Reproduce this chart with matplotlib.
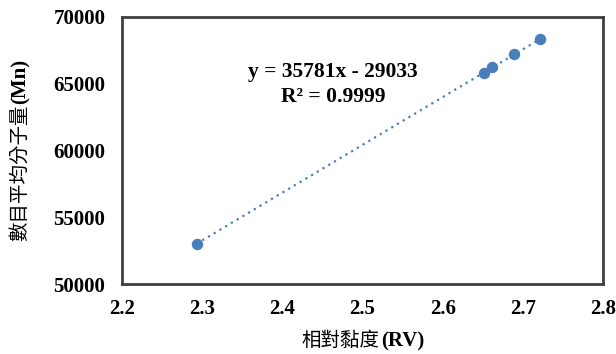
import matplotlib
matplotlib.use("Agg")
import matplotlib.pyplot as plt
import numpy as np

rv = [2.293, 2.652, 2.662, 2.689, 2.722]
mn = [53000, 65840, 66230, 67220, 68320]
slope, intercept = 35781, -29033
xticks = [2.2, 2.3, 2.4, 2.5, 2.6, 2.7, 2.8]
yticks = [50000, 55000, 60000, 65000, 70000]

serif = ['Liberation Serif', 'DejaVu Serif']
cjk = ['Noto Sans CJK TC', 'Liberation Serif']

fig = plt.figure(figsize=(6.16, 3.54), dpi=100)
ax = fig.add_axes([122/616, 1-284/354, (603-122)/616, (284-17)/354])

xf = np.array([min(rv), max(rv)])
ax.plot(xf, slope*xf + intercept, linestyle=(0, (1, 2)), color='#4a7ebb', linewidth=1.6, zorder=2)
ax.scatter(rv, mn, s=52, color='#4a7ebb', zorder=3)

ax.set_xlim(2.2, 2.8)
ax.set_ylim(50000, 70000)
ax.set_xticks(xticks)
ax.set_yticks(yticks)
ax.set_xticklabels([f"{v:.1f}" for v in xticks], fontfamily=serif, fontweight='bold', fontsize=15)
ax.set_yticklabels([str(v) for v in yticks], fontfamily=serif, fontweight='bold', fontsize=15)
ax.tick_params(axis='y', length=0, pad=12)
ax.tick_params(axis='x', length=0, pad=11)
for s in ax.spines.values():
    s.set_color('#404040')
    s.set_linewidth(2)

# x label: CJK regular + bold serif "(RV)"
fig.canvas.draw()
r = fig.canvas.get_renderer()
t1 = fig.text(0, 0, '相對黏度', fontfamily=cjk, fontsize=14, ha='left', va='baseline')
t2 = fig.text(0, 0, '(RV)', fontfamily=serif, fontweight='bold', fontsize=15, ha='left', va='baseline')
w1 = t1.get_window_extent(r).width
w2 = t2.get_window_extent(r).width
cx = (122 + 603) / 2
x0 = cx - (w1 + w2) / 2
base_y = 354 - 346
t1.set_position((x0 / 616, base_y / 354))
t2.set_position(((x0 + w1 + 1) / 616, base_y / 354))

# y label: CJK regular + bold serif "(Mn)", rotated
t3 = fig.text(0, 0, '數目平均分子量', fontfamily=cjk, fontsize=14, rotation=90, ha='center', va='bottom')
t4 = fig.text(0, 0, '(Mn)', fontfamily=serif, fontweight='bold', fontsize=15, rotation=90, ha='center', va='bottom')
h3 = t3.get_window_extent(r).height
h4 = t4.get_window_extent(r).height
cy = 354 - (17 + 284) / 2
y0 = cy - (h3 + h4) / 2
lx = 20
t3.set_position((lx / 616, y0 / 354))
t4.set_position(((lx + 1) / 616, (y0 + h3 + 1) / 354))

fig.text(333/616, 1-72/354, 'y = 35781x - 29033', ha='center', va='center',
         fontfamily=serif, fontweight='bold', fontsize=15.5)
fig.text(333/616, 1-97/354, 'R² = 0.9999', ha='center', va='center',
         fontfamily=serif, fontweight='bold', fontsize=15.5)

fig.savefig('out.png', dpi=100)
